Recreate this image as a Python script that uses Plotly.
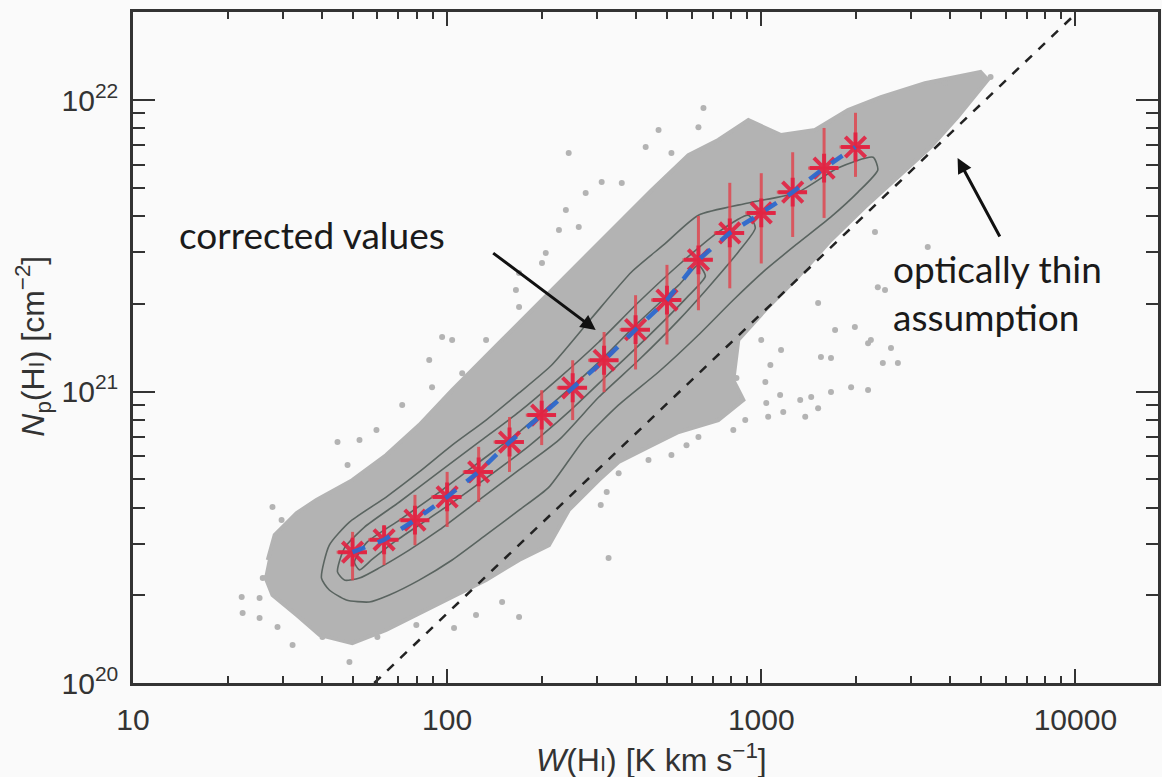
import plotly.graph_objects as go

# ---------------- data ----------------
# binned, corrected values (red stars with error bars)
w_bins = [50, 63, 79, 100, 126, 158, 200, 251, 316, 398, 501, 631, 794, 1000, 1259, 1585, 1995]
n_corr = [2.81e20, 3.10e20, 3.62e20, 4.35e20, 5.30e20, 6.71e20, 8.30e20, 1.03e21, 1.28e21,
          1.63e21, 2.06e21, 2.83e21, 3.50e21, 4.10e21, 4.83e21, 5.84e21, 6.90e21]
n_hi = [3.30e20, 3.48e20, 4.42e20, 5.30e20, 6.46e20, 8.18e20, 1.01e21, 1.28e21, 1.60e21,
        2.14e21, 2.72e21, 4.00e21, 5.20e21, 5.61e21, 6.62e21, 8.02e21, 9.04e21]
n_lo = [2.25e20, 2.54e20, 2.97e20, 3.43e20, 4.18e20, 5.30e20, 6.55e20, 7.98e20, 9.95e20,
        1.19e21, 1.45e21, 1.90e21, 2.26e21, 2.75e21, 3.39e21, 3.94e21, 5.45e21]

# optically thin assumption (dashed black line), end points
thin_w = [58.6, 10140]
thin_n = [1.0e20, 2.0e22]

# outline of the dense grey cloud of pixels (log10 W, log10 N)
cloud_log_w = [1.429, 1.451, 1.521, 1.584, 1.698, 1.806, 1.911, 2.016, 2.175, 2.333, 2.441, 2.546,
               2.651, 2.768, 2.863, 2.959, 3.063, 3.171, 3.276, 3.381, 3.521, 3.698,
               3.721, 3.625, 3.540, 3.435, 3.330, 3.222, 3.117, 3.013, 2.927, 2.911, 2.943, 2.863,
               2.737, 2.641, 2.546, 2.483, 2.387, 2.324, 2.229, 2.124, 2.016, 1.911, 1.806, 1.698,
               1.594, 1.521, 1.444, 1.419]
cloud_log_n = [20.422, 20.508, 20.583, 20.628, 20.696, 20.782, 20.885, 21.005, 21.177, 21.348, 21.468, 21.581,
               21.691, 21.811, 21.863, 21.931, 21.880, 21.897, 21.966, 22.010, 22.058, 22.096,
               22.069, 21.942, 21.839, 21.736, 21.633, 21.520, 21.393, 21.280, 21.177, 21.039, 20.971, 20.902,
               20.861, 20.810, 20.758, 20.696, 20.593, 20.473, 20.422, 20.353, 20.295, 20.240, 20.182, 20.137,
               20.165, 20.233, 20.302, 20.370]

# scattered outlying pixels (log10 W, log10 N)
out_log_w = [1.444, 1.473, 1.651, 1.683, 1.721, 1.775, 1.857, 1.952, 1.346, 1.403, 1.349, 1.403,
             1.460, 1.508, 1.603, 1.689, 1.778, 1.902, 2.022, 2.092, 2.175, 2.229, 1.413, 2.387,
             2.492, 2.556, 2.441, 2.378, 2.419, 2.356, 2.314, 2.229, 2.302, 2.219, 2.229, 2.124,
             2.016, 1.984, 1.943, 2.048, 2.673, 2.632, 2.800, 2.714, 2.816, 3.362, 3.530, 3.371,
             3.394, 3.181, 3.235, 3.298, 3.349, 3.435, 3.063, 3.000, 3.190, 3.340, 3.413, 3.222,
             3.029, 3.387, 2.921, 3.013, 3.060, 3.124, 3.159, 3.222, 3.286, 3.340, 3.016, 3.070,
             3.181, 3.140, 3.022, 2.949, 2.911, 2.800, 2.762, 2.714, 2.641, 2.546, 2.508, 2.489,
             2.514, 3.730, 3.584]
out_log_n = [20.604, 20.559, 20.827, 20.748, 20.834, 20.868, 20.954, 21.015, 20.295, 20.292, 20.240, 20.223,
             20.192, 20.130, 20.158, 20.072, 20.158, 20.199, 20.189, 20.233, 20.278, 20.226, 20.360, 21.818,
             21.719, 21.715, 21.681, 21.623, 21.564, 21.554, 21.475, 21.407, 21.441, 21.348, 21.290, 21.177,
             21.177, 21.187, 21.108, 21.063, 21.897, 21.839, 21.907, 21.818, 21.973, 21.547, 21.496, 21.358,
             21.348, 21.304, 21.211, 21.221, 21.177, 21.098, 21.142, 21.177, 21.118, 21.166, 21.149, 21.115,
             21.091, 21.098, 21.046, 21.033, 20.988, 20.971, 20.981, 20.998, 21.015, 21.005, 20.961, 20.930,
             20.943, 20.913, 20.913, 20.902, 20.868, 20.844, 20.816, 20.782, 20.765, 20.720, 20.655, 20.611,
             20.429, 22.079, 22.058]

# density contours (log10 W, log10 N)
c1_log_w = [1.600, 1.625, 1.689, 1.806, 1.911, 2.016, 2.124, 2.229, 2.333, 2.460, 2.587, 2.689, 2.800,
            2.959, 3.117, 3.244, 3.356, 3.371, 3.308, 3.222, 3.117, 3.013, 2.911, 2.800, 2.673, 2.546,
            2.435, 2.324, 2.229, 2.124, 2.016, 1.911, 1.816, 1.752, 1.679, 1.625, 1.600]
c1_log_n = [20.360, 20.473, 20.552, 20.638, 20.724, 20.816, 20.902, 20.995, 21.091, 21.252, 21.410, 21.503, 21.605,
            21.647, 21.684, 21.767, 21.804, 21.760, 21.684, 21.599, 21.509, 21.417, 21.314, 21.194, 21.067, 20.954,
            20.834, 20.672, 20.593, 20.508, 20.422, 20.353, 20.302, 20.278, 20.285, 20.319, 20.360]
c2_log_w = [1.651, 1.673, 1.737, 1.848, 1.975, 2.102, 2.229, 2.356, 2.483, 2.610, 2.737, 2.863, 2.959,
            2.981, 2.927, 2.832, 2.737, 2.610, 2.483, 2.356, 2.229, 2.102, 1.975, 1.879, 1.784, 1.721,
            1.673, 1.651]
c2_log_n = [20.381, 20.463, 20.535, 20.621, 20.724, 20.827, 20.930, 21.046, 21.170, 21.307, 21.434, 21.547, 21.605,
            21.561, 21.479, 21.358, 21.245, 21.108, 20.981, 20.834, 20.731, 20.628, 20.525, 20.456, 20.395, 20.360,
            20.353, 20.381]
c3_log_w = [1.705, 1.746, 1.848, 1.975, 2.102, 2.229, 2.356, 2.483, 2.610, 2.737, 2.800, 2.822, 2.768,
            2.641, 2.514, 2.387, 2.260, 2.133, 2.006, 1.911, 1.832, 1.759, 1.721, 1.705]
c3_log_n = [20.415, 20.484, 20.559, 20.655, 20.758, 20.861, 20.978, 21.101, 21.238, 21.365, 21.434, 21.396, 21.328,
            21.190, 21.060, 20.930, 20.813, 20.710, 20.611, 20.542, 20.484, 20.422, 20.388, 20.415]

x_tick_vals = [10, 100, 1000, 10000]
x_tick_text = ["10", "100", "1000", "10000"]
y_tick_vals = [1e20, 1e21, 1e22]
y_tick_text = ["10<sup>20</sup>", "10<sup>21</sup>", "10<sup>22</sup>"]


def lin(vals):
    return [10 ** v for v in vals]


# ---------------- figure ----------------
GREY = "#b3b3b3"
AX = "#333333"
fig = go.Figure()

fig.add_trace(go.Scatter(x=lin(cloud_log_w), y=lin(cloud_log_n), mode="lines", fill="toself",
                         fillcolor=GREY, line=dict(color=GREY, width=4), hoverinfo="skip"))
fig.add_trace(go.Scatter(x=lin(out_log_w), y=lin(out_log_n), mode="markers",
                         marker=dict(size=6, color=GREY), hoverinfo="skip"))

for cw, cn in [(c1_log_w, c1_log_n), (c2_log_w, c2_log_n), (c3_log_w, c3_log_n)]:
    fig.add_trace(go.Scatter(x=lin(cw), y=lin(cn), mode="lines",
                             line=dict(color="#5a6460", width=1.6, shape="spline", smoothing=0.6),
                             hoverinfo="skip"))

fig.add_trace(go.Scatter(x=thin_w, y=thin_n, mode="lines",
                         line=dict(color="#222222", width=2.5, dash="dash")))

err_up = [h - n for h, n in zip(n_hi, n_corr)]
err_dn = [n - l for n, l in zip(n_corr, n_lo)]
fig.add_trace(go.Scatter(
    x=w_bins, y=n_corr, mode="markers",
    marker=dict(symbol="asterisk-open", size=24, color="rgba(226,32,64,0.9)",
                line=dict(width=4, color="rgba(226,32,64,0.9)")),
    error_y=dict(type="data", symmetric=False, array=err_up, arrayminus=err_dn,
                 color="rgba(222,70,80,0.85)", thickness=3, width=0),
    error_x=dict(type="percent", value=11, color="rgba(222,70,80,0.85)", thickness=3, width=0),
))
fig.add_trace(go.Scatter(x=w_bins, y=n_corr, mode="lines",
                         line=dict(color="rgba(45,105,205,0.95)", width=4.5, dash="dash")))

tickfont = dict(family="Liberation Sans, Arial, sans-serif", size=30, color=AX)
fig.update_xaxes(type="log", range=[1, 4.263], tickvals=x_tick_vals, ticktext=x_tick_text,
                 ticks="inside", ticklen=14, tickwidth=2, tickcolor=AX,
                 showline=True, linewidth=2.5, linecolor=AX, mirror="allticks",
                 showgrid=False, zeroline=False, tickfont=tickfont, ticklabelstandoff=8,
                 minor=dict(tickvals=[20, 30, 40, 50, 60, 70, 80, 90, 200, 300, 400, 500, 600, 700, 800, 900,
                                      2000, 3000, 4000, 5000, 6000, 7000, 8000, 9000],
                            ticks="inside", ticklen=7, tickwidth=2, tickcolor=AX, showgrid=False))
fig.update_yaxes(type="log", range=[20, 22.302], tickvals=y_tick_vals, ticktext=y_tick_text,
                 ticks="inside", ticklen=22, tickwidth=2, tickcolor=AX,
                 showline=True, linewidth=2.5, linecolor=AX, mirror="allticks",
                 showgrid=False, zeroline=False, tickfont=tickfont, ticklabelstandoff=6,
                 minor=dict(tickvals=[2e20, 3e20, 4e20, 5e20, 6e20, 7e20, 8e20, 9e20,
                                      2e21, 3e21, 4e21, 5e21, 6e21, 7e21, 8e21, 9e21],
                            ticks="inside", ticklen=12, tickwidth=2, tickcolor=AX, showgrid=False))

label_font = dict(family="Lato, Open Sans, sans-serif", size=37, color="#1a1a1a")
title_font = dict(family="Liberation Sans, Arial, sans-serif", size=32, color=AX)
annotations = [
    dict(x=2.473, y=21.211, xref="x", yref="y", ax=-104, ay=-78, text="", showarrow=True,
         arrowhead=2, arrowsize=1, arrowwidth=3, arrowcolor="#111111"),
    dict(x=3.625, y=21.801, xref="x", yref="y", ax=43, ay=80, text="", showarrow=True,
         arrowhead=2, arrowsize=1, arrowwidth=3, arrowcolor="#111111"),
    dict(x=1.14, y=21.537, xref="x", yref="y", text="corrected values", showarrow=False,
         xanchor="left", yanchor="middle", font=label_font),
    dict(x=3.413, y=21.338, xref="x", yref="y", text="optically thin<br>assumption", showarrow=False,
         xanchor="left", yanchor="middle", align="left", font=label_font),
    dict(x=0.506, y=-0.112, xref="paper", yref="paper", showarrow=False, xanchor="center", yanchor="middle",
         text="<i>W</i>(H<span style='font-size:22px'>I</span>) [K km s<sup>−1</sup>]", font=title_font),
    dict(x=-0.098, y=0.502, xref="paper", yref="paper", showarrow=False, xanchor="center", yanchor="middle",
         textangle=-90,
         text="<i>N</i><sub>p</sub>(H<span style='font-size:22px'>I</span>) [cm<sup>−2</sup>]", font=title_font),
]

fig.update_layout(width=1162, height=777, margin=dict(l=133, r=1, t=12, b=94),
                  paper_bgcolor="#fafafa", plot_bgcolor="#fafafa", showlegend=False,
                  annotations=annotations)

fig.write_html("out.html")
